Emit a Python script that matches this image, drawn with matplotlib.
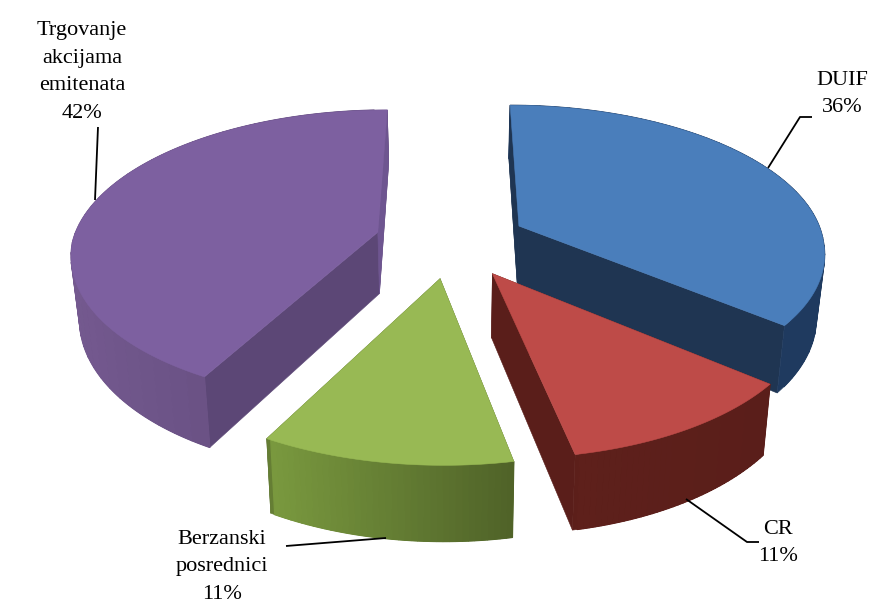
import numpy as np
import matplotlib
matplotlib.use("Agg")
import matplotlib.pyplot as plt
from matplotlib.colors import to_rgb
from matplotlib.patches import Polygon

names = ["DUIF", "CR", "Berzanski\nposrednici", "Trgovanje\nakcijama\nemitenata"]
shares = [36, 11, 11, 42]
top_cols = ["#4A7EBB", "#BE4B48", "#98B954", "#7D60A0"]
cut_cols = ["#1F3552", "#5A1E1A", "#4F6228", "#5C4776"]
rim_left = ["#1F3A5F", "#5E201B", "#7A9A3F", "#74598F"]
rim_right = ["#1F3A5F", "#5A1E1A", "#4F6228", "#5C4776"]
draw_order = [3, 0, 2, 1]

# projection of the pie plane to image pixels
CX, CY, A, B, P, EXPL, DEPTH, SHRINK = 451, 241, 305, 143, 0.15, 0.25, 62, 0.022
FRONT_DX, FRONT_DY = 6, 4

fig = plt.figure(figsize=(8.72, 6.07), dpi=100)
ax = fig.add_axes([0, 0, 1, 1])
ax.set_xlim(0, 872)
ax.set_ylim(607, 0)
ax.axis("off")


def proj(X, Y, low=False):
    w = 1 + P * Y
    sx = CX + A * X / w
    sy = CY - B * Y / w
    front = np.minimum(Y, 0)
    sx = sx - FRONT_DX * front
    sy = sy - FRONT_DY * front
    if low:
        sx = CX + (sx - CX) * (1 - SHRINK)
        sy = sy + DEPTH / w
    return np.column_stack([sx, sy])


def poly(pts, col, z, lw=0.4):
    ax.add_patch(Polygon(pts, closed=True, facecolor=col, edgecolor=col, lw=lw, zorder=z))


edges = np.concatenate([[0], np.cumsum(shares)]) / np.sum(shares) * 2 * np.pi
for rank, i in enumerate(draw_order):
    a0, a1 = edges[i], edges[i + 1]
    mid = (a0 + a1) / 2
    ox, oy = EXPL * np.sin(mid), EXPL * np.cos(mid)
    th = np.linspace(a0, a1, 160)
    X = ox + np.sin(th)
    Y = oy + np.cos(th)
    z = 2 + rank * 3
    apex_t = proj(np.array([ox]), np.array([oy]))
    apex_b = proj(np.array([ox]), np.array([oy]), low=True)
    up = proj(X, Y)
    lo = proj(X, Y, low=True)
    # flat cut faces
    for k in (0, -1):
        poly(np.vstack([apex_t, up[k], lo[k], apex_b]), cut_cols[i], z)
    # curved rim: a solid base, then a left to right gradient in overlapping bands
    c0, c1 = np.array(to_rgb(rim_left[i])), np.array(to_rgb(rim_right[i]))
    poly(np.vstack([up, lo[::-1]]), tuple((c0 + c1) / 2), z + 1, lw=0.4)
    xmin, xmax = up[:, 0].min(), up[:, 0].max()
    step = 4
    for k in range(0, len(th) - step, step):
        t = ((up[k, 0] + up[k + step, 0]) / 2 - xmin) / max(xmax - xmin, 1)
        poly(np.vstack([up[k:k + step + 1], lo[k:k + step + 1][::-1]]),
             tuple(c0 + (c1 - c0) * t), z + 1, lw=0.9)
    # back edge sliver of the purple slice is lighter
    if i == 3:
        poly(np.vstack([apex_t, up[-1], lo[-1], apex_b]), "#6E5590", z + 1)
    elif i == 0:
        poly(np.vstack([apex_t, up[0], lo[0], apex_b]), cut_cols[i], z + 1)
    # top face
    poly(np.vstack([apex_t, up]), top_cols[i], z + 2)

leaders = [
    [(768, 168), (800, 117), (812, 117)],
    [(686, 499), (747, 542), (759, 542)],
    [(386, 538), (286, 546)],
    [(95, 200), (98, 127)],
]
anchors = [(842, 94), (778, 543), (222, 567), (82, 72)]
for i in range(4):
    pts = np.array(leaders[i])
    ax.plot(pts[:, 0], pts[:, 1], color="black", lw=1.3, zorder=30, solid_capstyle="butt")
    ax.text(anchors[i][0], anchors[i][1], f"{names[i]}\n{shares[i]}%", ha="center", va="center",
            family="Liberation Serif", fontsize=16, linespacing=1.62, color="black", zorder=31,
            clip_on=False)

fig.savefig("out.png", dpi=100, facecolor="white")
